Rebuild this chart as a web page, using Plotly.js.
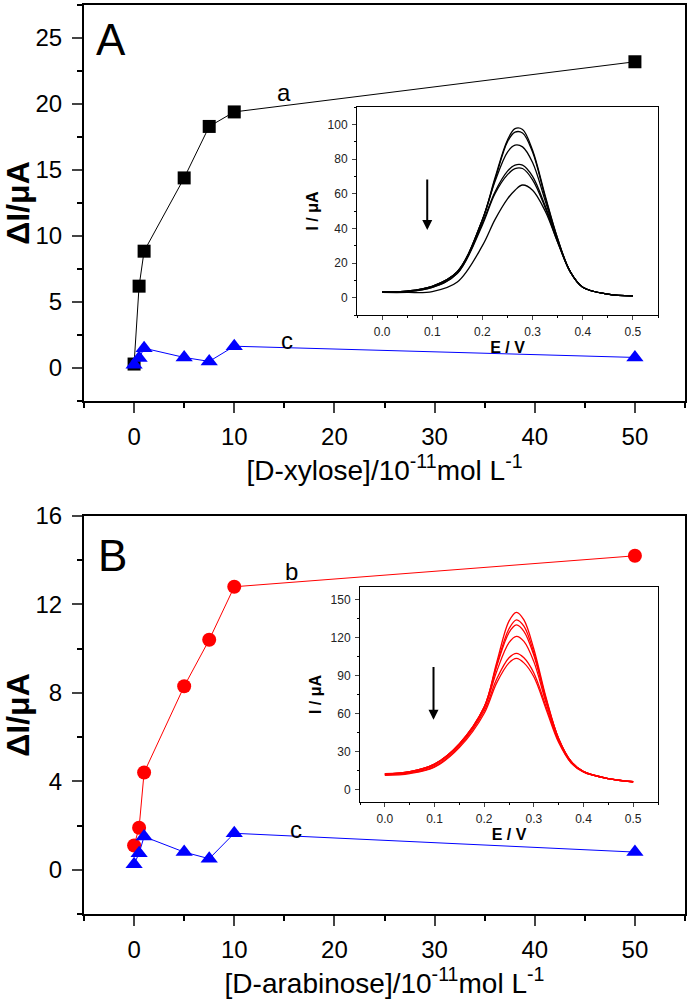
<!DOCTYPE html>
<html><head><meta charset="utf-8">
<script src="https://cdn.plot.ly/plotly-3.0.1.min.js"></script>
<style>html,body{margin:0;padding:0;background:#fff}#chart{width:687px;height:1003px}</style>
</head><body><div id="chart"></div>
<script>
// ---- main data ----
const conc = [0, 0.5, 1, 5, 7.5, 10, 50];
const xyloseA = [0.3, 6.2, 8.85, 14.4, 18.3, 19.4, 23.2];   // curve a
const arabinoseB = [1.1, 1.9, 4.4, 8.3, 10.4, 12.8, 14.2];   // curve b
const controlC = [0.25, 0.75, 1.5, 0.8, 0.5, 1.65, 0.8];     // curve c

// ---- inset data (DPV curves) ----
const potential = [0, 0.05, 0.1, 0.15, 0.2, 0.225, 0.25, 0.265, 0.28, 0.3, 0.325, 0.35, 0.375, 0.4, 0.45, 0.5];
const dpvA1 = [3.5, 3.8, 6.5, 15, 45, 69, 91, 97.5, 97, 85, 59, 34, 15, 6, 2, 1];
const dpvA2 = [3.5, 3.8, 6.5, 15, 45, 68, 90, 95.5, 95, 84, 58, 34, 15, 6, 2, 1];
const dpvA3 = [3.5, 3.8, 6.5, 15, 45, 67, 84, 88, 87, 78, 56, 33, 15, 6, 2, 1];
const dpvA4 = [3.5, 3.6, 6, 14, 43, 61, 73, 76.5, 76.5, 70, 53, 33, 15, 6, 2, 1];
const dpvA5 = [3.3, 3.5, 6, 14, 42, 60, 71, 74.5, 74.5, 68, 52, 32, 15, 6, 2, 1];
const dpvA6 = [3, 3, 3.5, 9, 30, 45, 57, 62, 65, 62, 50, 32, 15, 6, 2, 1];
const dpvB1 = [12, 14, 20, 36, 65, 100, 133, 140, 134, 111, 72, 40, 22, 14, 8.5, 6];
const dpvB2 = [12.5, 14, 20, 36, 65, 98, 127, 134, 129, 108, 71, 40, 22, 14, 8.5, 6];
const dpvB3 = [12, 14, 20, 36, 65, 97, 124, 130, 125, 106, 70, 40, 22, 14, 8.5, 6];
const dpvB4 = [12, 13.5, 19, 35, 64, 93, 116, 121, 117, 101, 68, 39, 22, 14, 8.5, 6];
const dpvB5 = [11.5, 13, 18, 34, 62, 87, 104, 107.5, 104, 92, 65, 38, 21, 14, 8.5, 6];
const dpvB6 = [11, 12.5, 17.5, 33, 60, 84, 100, 103.5, 100, 89, 63, 37, 21, 13.5, 8.5, 6];

const xTicks = [0, 10, 20, 30, 40, 50];
const yTicksA = [0, 5, 10, 15, 20, 25];
const yTicksB = [0, 4, 8, 12, 16];
const insetXTicks = [0, 0.1, 0.2, 0.3, 0.4, 0.5];
const insetYTicksA = [0, 20, 40, 60, 80, 100];
const insetYTicksB = [0, 30, 60, 90, 120, 150];

const FONT = 'Liberation Sans, Arial, Helvetica, sans-serif';
const W = 687, H = 1003;
const dx = (a, b) => [a / W, b / W];
const dy = (top, bot) => [1 - bot / H, 1 - top / H];

const traces = [];
// Panel A main
traces.push({x: conc, y: xyloseA, xaxis: 'x', yaxis: 'y', mode: 'lines+markers', type: 'scatter',
  line: {color: '#000', width: 1}, marker: {symbol: 'square', size: 13, color: '#000'}});
traces.push({x: conc, y: controlC, xaxis: 'x', yaxis: 'y', mode: 'lines+markers', type: 'scatter',
  line: {color: '#0000ff', width: 1}, marker: {symbol: 'triangle-up', size: 15, color: '#0000ff'}});
// Panel A inset
[dpvA1, dpvA2, dpvA3, dpvA4, dpvA5, dpvA6].forEach(c => traces.push({x: potential, y: c, xaxis: 'x2', yaxis: 'y2',
  mode: 'lines', type: 'scatter', line: {color: '#000', width: 1.3, shape: 'spline', smoothing: 1}}));
// Panel B main
traces.push({x: conc, y: arabinoseB, xaxis: 'x3', yaxis: 'y3', mode: 'lines+markers', type: 'scatter',
  line: {color: '#ff0000', width: 1}, marker: {symbol: 'circle', size: 14, color: '#ff0000'}});
traces.push({x: conc, y: controlC, xaxis: 'x3', yaxis: 'y3', mode: 'lines+markers', type: 'scatter',
  line: {color: '#0000ff', width: 1}, marker: {symbol: 'triangle-up', size: 15, color: '#0000ff'}});
// Panel B inset
[dpvB1, dpvB2, dpvB3, dpvB4, dpvB5, dpvB6].forEach(c => traces.push({x: potential, y: c, xaxis: 'x4', yaxis: 'y4',
  mode: 'lines', type: 'scatter', line: {color: '#ff0000', width: 1.3, shape: 'spline', smoothing: 1}}));

function mainX(domain, anchor, title) {
  return {domain: domain, anchor: anchor, range: [-5, 55], tickvals: xTicks, ticks: 'outside', ticklen: 10, tickwidth: 2,
    showline: true, linewidth: 2, linecolor: '#000', mirror: true, showgrid: false, zeroline: false,
    tickfont: {family: FONT, size: 24, color: '#000'}, ticklabelstandoff: 3,
    minor: {dtick: 5, tick0: 0, ticks: 'outside', ticklen: 5, tickwidth: 2, tickcolor: '#000', showgrid: false},
    title: {text: title, font: {family: FONT, size: 28, color: '#000'}, standoff: 6}};
}
function mainY(domain, anchor, range, tv, minorStep) {
  return {domain: domain, anchor: anchor, range: range, tickvals: tv, ticks: 'outside', ticklen: 10, tickwidth: 2,
    showline: true, linewidth: 2, linecolor: '#000', mirror: true, showgrid: false, zeroline: false,
    tickfont: {family: FONT, size: 24, color: '#000'}, ticklabelstandoff: 5,
    minor: {dtick: minorStep, tick0: 0, ticks: 'outside', ticklen: 5, tickwidth: 2, tickcolor: '#000', showgrid: false},
    title: {text: 'ΔI/μA', font: {family: FONT, size: 32, color: '#000', weight: 'bold'}, standoff: 6}};
}
function insetX(domain, anchor) {
  return {domain: domain, anchor: anchor, range: [-0.05, 0.55], tickvals: insetXTicks, ticktext: insetXTicks.map(v => v.toFixed(1)),
    ticks: 'outside', ticklen: 4, tickwidth: 1, showline: true, linewidth: 1, linecolor: '#000', mirror: true,
    showgrid: false, zeroline: false, tickfont: {family: FONT, size: 12, color: '#222'}, ticklabelstandoff: 2,
    minor: {dtick: 0.05, tick0: 0, ticks: 'outside', ticklen: 2, tickwidth: 1, tickcolor: '#000', showgrid: false},
    title: {text: 'E / V', font: {family: FONT, size: 16, color: '#000', weight: 'bold'}, standoff: 2}};
}
function insetY(domain, anchor, range, tv, minorStep) {
  return {domain: domain, anchor: anchor, range: range, tickvals: tv, ticks: 'outside', ticklen: 4, tickwidth: 1,
    showline: true, linewidth: 1, linecolor: '#000', mirror: true, showgrid: false, zeroline: false,
    tickfont: {family: FONT, size: 12, color: '#222'}, ticklabelstandoff: 2,
    minor: {dtick: minorStep, tick0: 0, ticks: 'outside', ticklen: 2, tickwidth: 1, tickcolor: '#000', showgrid: false},
    title: {text: 'I / μA', font: {family: FONT, size: 16, color: '#000', weight: 'bold'}, standoff: 4}};
}

const layout = {
  width: W, height: H, margin: {l: 0, r: 0, t: 0, b: 0}, showlegend: false,
  paper_bgcolor: '#fff', plot_bgcolor: '#fff', font: {family: FONT, color: '#000'},
  xaxis: mainX(dx(84, 685), 'y', '[D-xylose]/10<sup>-11</sup>mol L<sup>-1</sup>'),
  yaxis: mainY(dy(5, 401), 'x', [-2.5, 27.5], yTicksA, 2.5),
  xaxis2: insetX(dx(357, 658), 'y2'),
  yaxis2: insetY(dy(107, 315), 'x2', [-10, 110], insetYTicksA, 10),
  xaxis3: mainX(dx(84, 685), 'y3', '[D-arabinose]/10<sup>-11</sup>mol L<sup>-1</sup>'),
  yaxis3: mainY(dy(516, 914), 'x3', [-2, 16], yTicksB, 2),
  xaxis4: insetX(dx(360, 658), 'y4'),
  yaxis4: insetY(dy(587, 802), 'x4', [-10, 160], insetYTicksB, 15),
  annotations: [
    {text: 'A', x: -2.3, y: 24.9, xref: 'x', yref: 'y', showarrow: false, font: {family: FONT, size: 44, color: '#000'}},
    {text: 'a', x: 15, y: 20.9, xref: 'x', yref: 'y', showarrow: false, font: {family: FONT, size: 24, color: '#000'}},
    {text: 'c', x: 15.3, y: 2.1, xref: 'x', yref: 'y', showarrow: false, font: {family: FONT, size: 24, color: '#000'}},
    {text: 'B', x: -2.2, y: 14.2, xref: 'x3', yref: 'y3', showarrow: false, font: {family: FONT, size: 44, color: '#000'}},
    {text: 'b', x: 15.7, y: 13.5, xref: 'x3', yref: 'y3', showarrow: false, font: {family: FONT, size: 24, color: '#000'}},
    {text: 'c', x: 16.2, y: 1.8, xref: 'x3', yref: 'y3', showarrow: false, font: {family: FONT, size: 24, color: '#000'}},
    {text: '', x: 0.09, y: 39, ax: 0.09, ay: 69, xref: 'x2', yref: 'y2', axref: 'x2', ayref: 'y2',
      showarrow: true, arrowhead: 2, arrowsize: 1, arrowwidth: 2, arrowcolor: '#000'},
    {text: '', x: 0.098, y: 55, ax: 0.098, ay: 98, xref: 'x4', yref: 'y4', axref: 'x4', ayref: 'y4',
      showarrow: true, arrowhead: 2, arrowsize: 1, arrowwidth: 2, arrowcolor: '#000'}
  ]
};
Plotly.newPlot('chart', traces, layout, {displayModeBar: false, staticPlot: true});
</script></body></html>
